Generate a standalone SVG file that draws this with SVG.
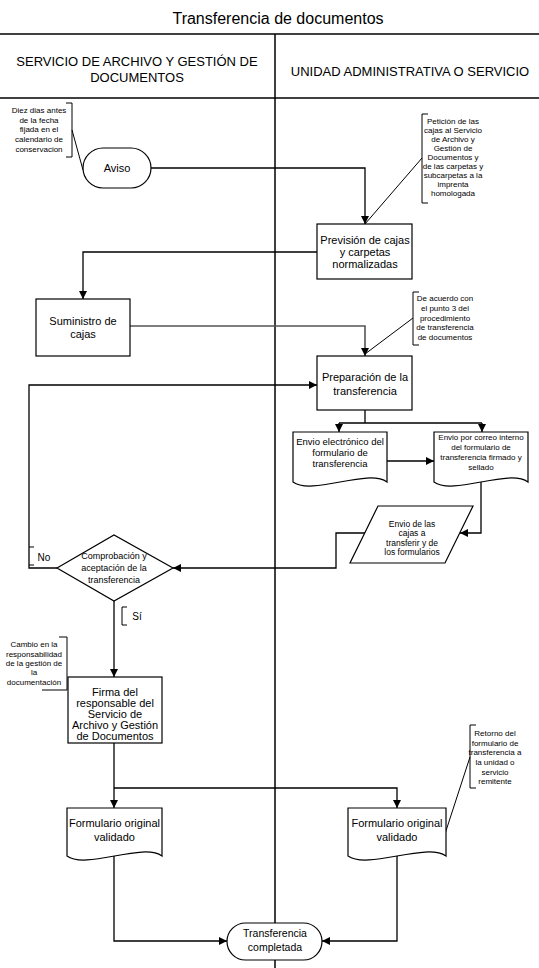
<svg xmlns="http://www.w3.org/2000/svg" width="539" height="968" viewBox="0 0 539 968">
<style>
text{font-family:"Liberation Sans",Arial,sans-serif;fill:#000;text-anchor:middle}
.t16{font-size:16px}.t13{font-size:13px}.t11{font-size:11px}.t10{font-size:10px}.t9{font-size:9px}.t8{font-size:8px}
.shape{fill:#fff;stroke:#000;stroke-width:1.2}
.con{fill:none;stroke:#000;stroke-width:1.3}
.gray{stroke:#555;stroke-width:1.6}
.ann{fill:none;stroke:#000;stroke-width:1}
.lane{fill:none;stroke:#000;stroke-width:1.5}
</style>
<defs>
<marker id="arr" viewBox="0 0 10 10" refX="10" refY="5" markerWidth="8" markerHeight="8" markerUnits="userSpaceOnUse" orient="auto">
<path d="M0,0 L10,5 L0,10 z" fill="#000"/>
</marker>
</defs>
<g id="lanes">
<text class="t16" x="278" y="24">Transferencia de documentos</text>
<line class="lane" x1="0" y1="34" x2="539" y2="34"/>
<line class="lane" x1="0" y1="98" x2="539" y2="98"/>
<line class="lane" x1="275" y1="34" x2="275" y2="968" stroke-width="2"/>
<text class="t13" x="137" y="66">SERVICIO DE ARCHIVO Y GESTIÓN DE</text>
<text class="t13" x="137" y="82">DOCUMENTOS</text>
<text class="t13" x="410" y="76">UNIDAD ADMINISTRATIVA O SERVICIO</text>
</g>
<g id="connectors">
<path class="con" d="M151,168 H365 V224" marker-end="url(#arr)"/>
<path class="con" d="M317,252 H83 V299" marker-end="url(#arr)"/>
<path class="con gray" d="M130,326 H365 V356" marker-end="url(#arr)"/>
<path class="con" d="M365,410 V423 M339,423 H482"/>
<path class="con" d="M339,423 V432" marker-end="url(#arr)"/>
<path class="con" d="M482,423 V432" marker-end="url(#arr)"/>
<path class="con" d="M387,461 H434" marker-end="url(#arr)"/>
<path class="con" d="M481,482 V533 H460" marker-end="url(#arr)"/>
<path class="con" d="M365,533 H336 V568 H173" marker-end="url(#arr)"/>
<path class="con" d="M57,568 H29 V385 H317" marker-end="url(#arr)"/>
<path class="con" d="M114,601 V677" marker-end="url(#arr)"/>
<path class="con" d="M114,743 V808" marker-end="url(#arr)"/>
<path class="con" d="M114,788 H397 V808" marker-end="url(#arr)"/>
<path class="con" d="M114,856 V941 H227" marker-end="url(#arr)"/>
<path class="con" d="M397,856 V941 H322" marker-end="url(#arr)"/>
<path class="ann" d="M29,547 H34 M29,565 H34"/>
<text class="t10" x="44" y="561">No</text>
<path class="ann" d="M127,607 H122 V625 H127"/>
<text class="t10" x="137" y="620">Sí</text>
</g>
<g id="annot-aviso">
<path class="ann" d="M66,103 H72 V157 H66 M72,130 L83,170"/>
<text class="t8"><tspan x="39" y="113">Diez dias antes</tspan><tspan x="39" y="123">de la fecha</tspan><tspan x="39" y="132">fijada en el</tspan><tspan x="39" y="142">calendario de</tspan><tspan x="39" y="152">conservacion</tspan></text>
</g>
<g id="node-aviso">
<rect class="shape" x="83" y="148" width="68" height="40" rx="20"/>
<text class="t11" x="117" y="172">Aviso</text>
</g>
<g id="annot-peticion">
<path class="ann" d="M428,114 H422 V203 H428 M422,158 L365,224"/>
<text class="t8"><tspan x="453" y="124">Petición de las</tspan><tspan x="453" y="133">cajas al Servicio</tspan><tspan x="453" y="142">de Archivo y</tspan><tspan x="453" y="151">Gestión de</tspan><tspan x="453" y="160">Documentos y</tspan><tspan x="453" y="169">de las carpetas y</tspan><tspan x="453" y="178">subcarpetas a la</tspan><tspan x="453" y="187">imprenta</tspan><tspan x="453" y="196">homologada</tspan></text>
</g>
<g id="node-prevision">
<rect class="shape" x="317" y="224" width="95" height="55"/>
<text class="t11"><tspan x="365" y="244">Previsión de cajas</tspan><tspan x="365" y="256">y carpetas</tspan><tspan x="365" y="268">normalizadas</tspan></text>
</g>
<g id="node-suministro">
<rect class="shape" x="36" y="299" width="94" height="57"/>
<text class="t11"><tspan x="83" y="325">Suministro de</tspan><tspan x="83" y="338">cajas</tspan></text>
</g>
<g id="annot-acuerdo">
<path class="ann" d="M419,292 H413 V345 H419 M413,318 L365,354"/>
<text class="t8"><tspan x="445" y="301">De acuerdo con</tspan><tspan x="445" y="311">el punto 3 del</tspan><tspan x="445" y="321">procedimiento</tspan><tspan x="445" y="330">de transferencia</tspan><tspan x="445" y="340">de documentos</tspan></text>
</g>
<g id="node-preparacion">
<rect class="shape" x="317" y="356" width="95" height="54"/>
<text class="t11"><tspan x="365" y="381">Preparación de la</tspan><tspan x="365" y="395">transferencia</tspan></text>
</g>
<g id="node-envio-electronico">
<path class="shape" d="M293,432 H387 V482 C368,468 312,496 293,482 Z"/>
<text style="font-size:9.5px"><tspan x="340" y="445">Envio electrónico del</tspan><tspan x="340" y="456">formulario de</tspan><tspan x="340" y="467">transferencia</tspan></text>
</g>
<g id="node-envio-correo">
<path class="shape" d="M434,432 H528 V482 C509,468 453,496 434,482 Z"/>
<text class="t8"><tspan x="481" y="440">Envio por correo interno</tspan><tspan x="481" y="450">del formulario de</tspan><tspan x="481" y="460">transferencia firmado y</tspan><tspan x="481" y="470">sellado</tspan></text>
</g>
<g id="node-envio-cajas">
<polygon class="shape" points="378,506 473,506 445,563 350,563"/>
<text style="font-size:8.5px"><tspan x="412" y="527">Envio de las</tspan><tspan x="412" y="536">cajas a</tspan><tspan x="412" y="546">transferir y de</tspan><tspan x="412" y="555">los formularios</tspan></text>
</g>
<g id="node-comprobacion">
<polygon class="shape" points="57,568 114,535 173,568 114,601"/>
<text class="t9"><tspan x="114" y="559">Comprobación y</tspan><tspan x="114" y="571">aceptación de la</tspan><tspan x="114" y="583">transferencia</tspan></text>
</g>
<g id="annot-cambio">
<path class="ann" d="M59,637 H67 V690 H42"/>
<text class="t8"><tspan x="34" y="647">Cambio en la</tspan><tspan x="34" y="657">responsabilidad</tspan><tspan x="34" y="666">de la  gestión de</tspan><tspan x="34" y="675">la</tspan><tspan x="34" y="685">documentación</tspan></text>
</g>
<g id="node-firma">
<rect class="shape" x="68" y="677" width="94" height="66"/>
<text class="t11"><tspan x="115" y="695.5">Firma del</tspan><tspan x="115" y="706.6">responsable del</tspan><tspan x="115" y="717.7">Servicio de</tspan><tspan x="115" y="728.8">Archivo y Gestión</tspan><tspan x="115" y="740">de Documentos</tspan></text>
</g>
<g id="node-formulario-1">
<path class="shape" d="M67,808 H162 V856 C143,842 86,870 67,856 Z"/>
<text class="t11"><tspan x="114.5" y="827">Formulario original</tspan><tspan x="114.5" y="841">validado</tspan></text>
</g>
<g id="annot-retorno">
<path class="ann" d="M476,725 H470 V788 H476 M470,757 L443,840"/>
<text class="t8"><tspan x="495" y="736">Retorno del</tspan><tspan x="495" y="746">formulario de</tspan><tspan x="495" y="755">transferencia a</tspan><tspan x="495" y="765">la unidad o</tspan><tspan x="495" y="775">servicio</tspan><tspan x="495" y="784">remitente</tspan></text>
</g>
<g id="node-formulario-2">
<path class="shape" d="M348,808 H446 V856 C426,842 368,870 348,856 Z"/>
<text class="t11"><tspan x="397" y="827">Formulario original</tspan><tspan x="397" y="841">validado</tspan></text>
</g>
<g id="node-fin">
<rect class="shape" x="227" y="923" width="95" height="37" rx="18.5"/>
<text style="font-size:10.5px"><tspan x="275" y="937">Transferencia</tspan><tspan x="275" y="951">completada</tspan></text>
</g>
</svg>
